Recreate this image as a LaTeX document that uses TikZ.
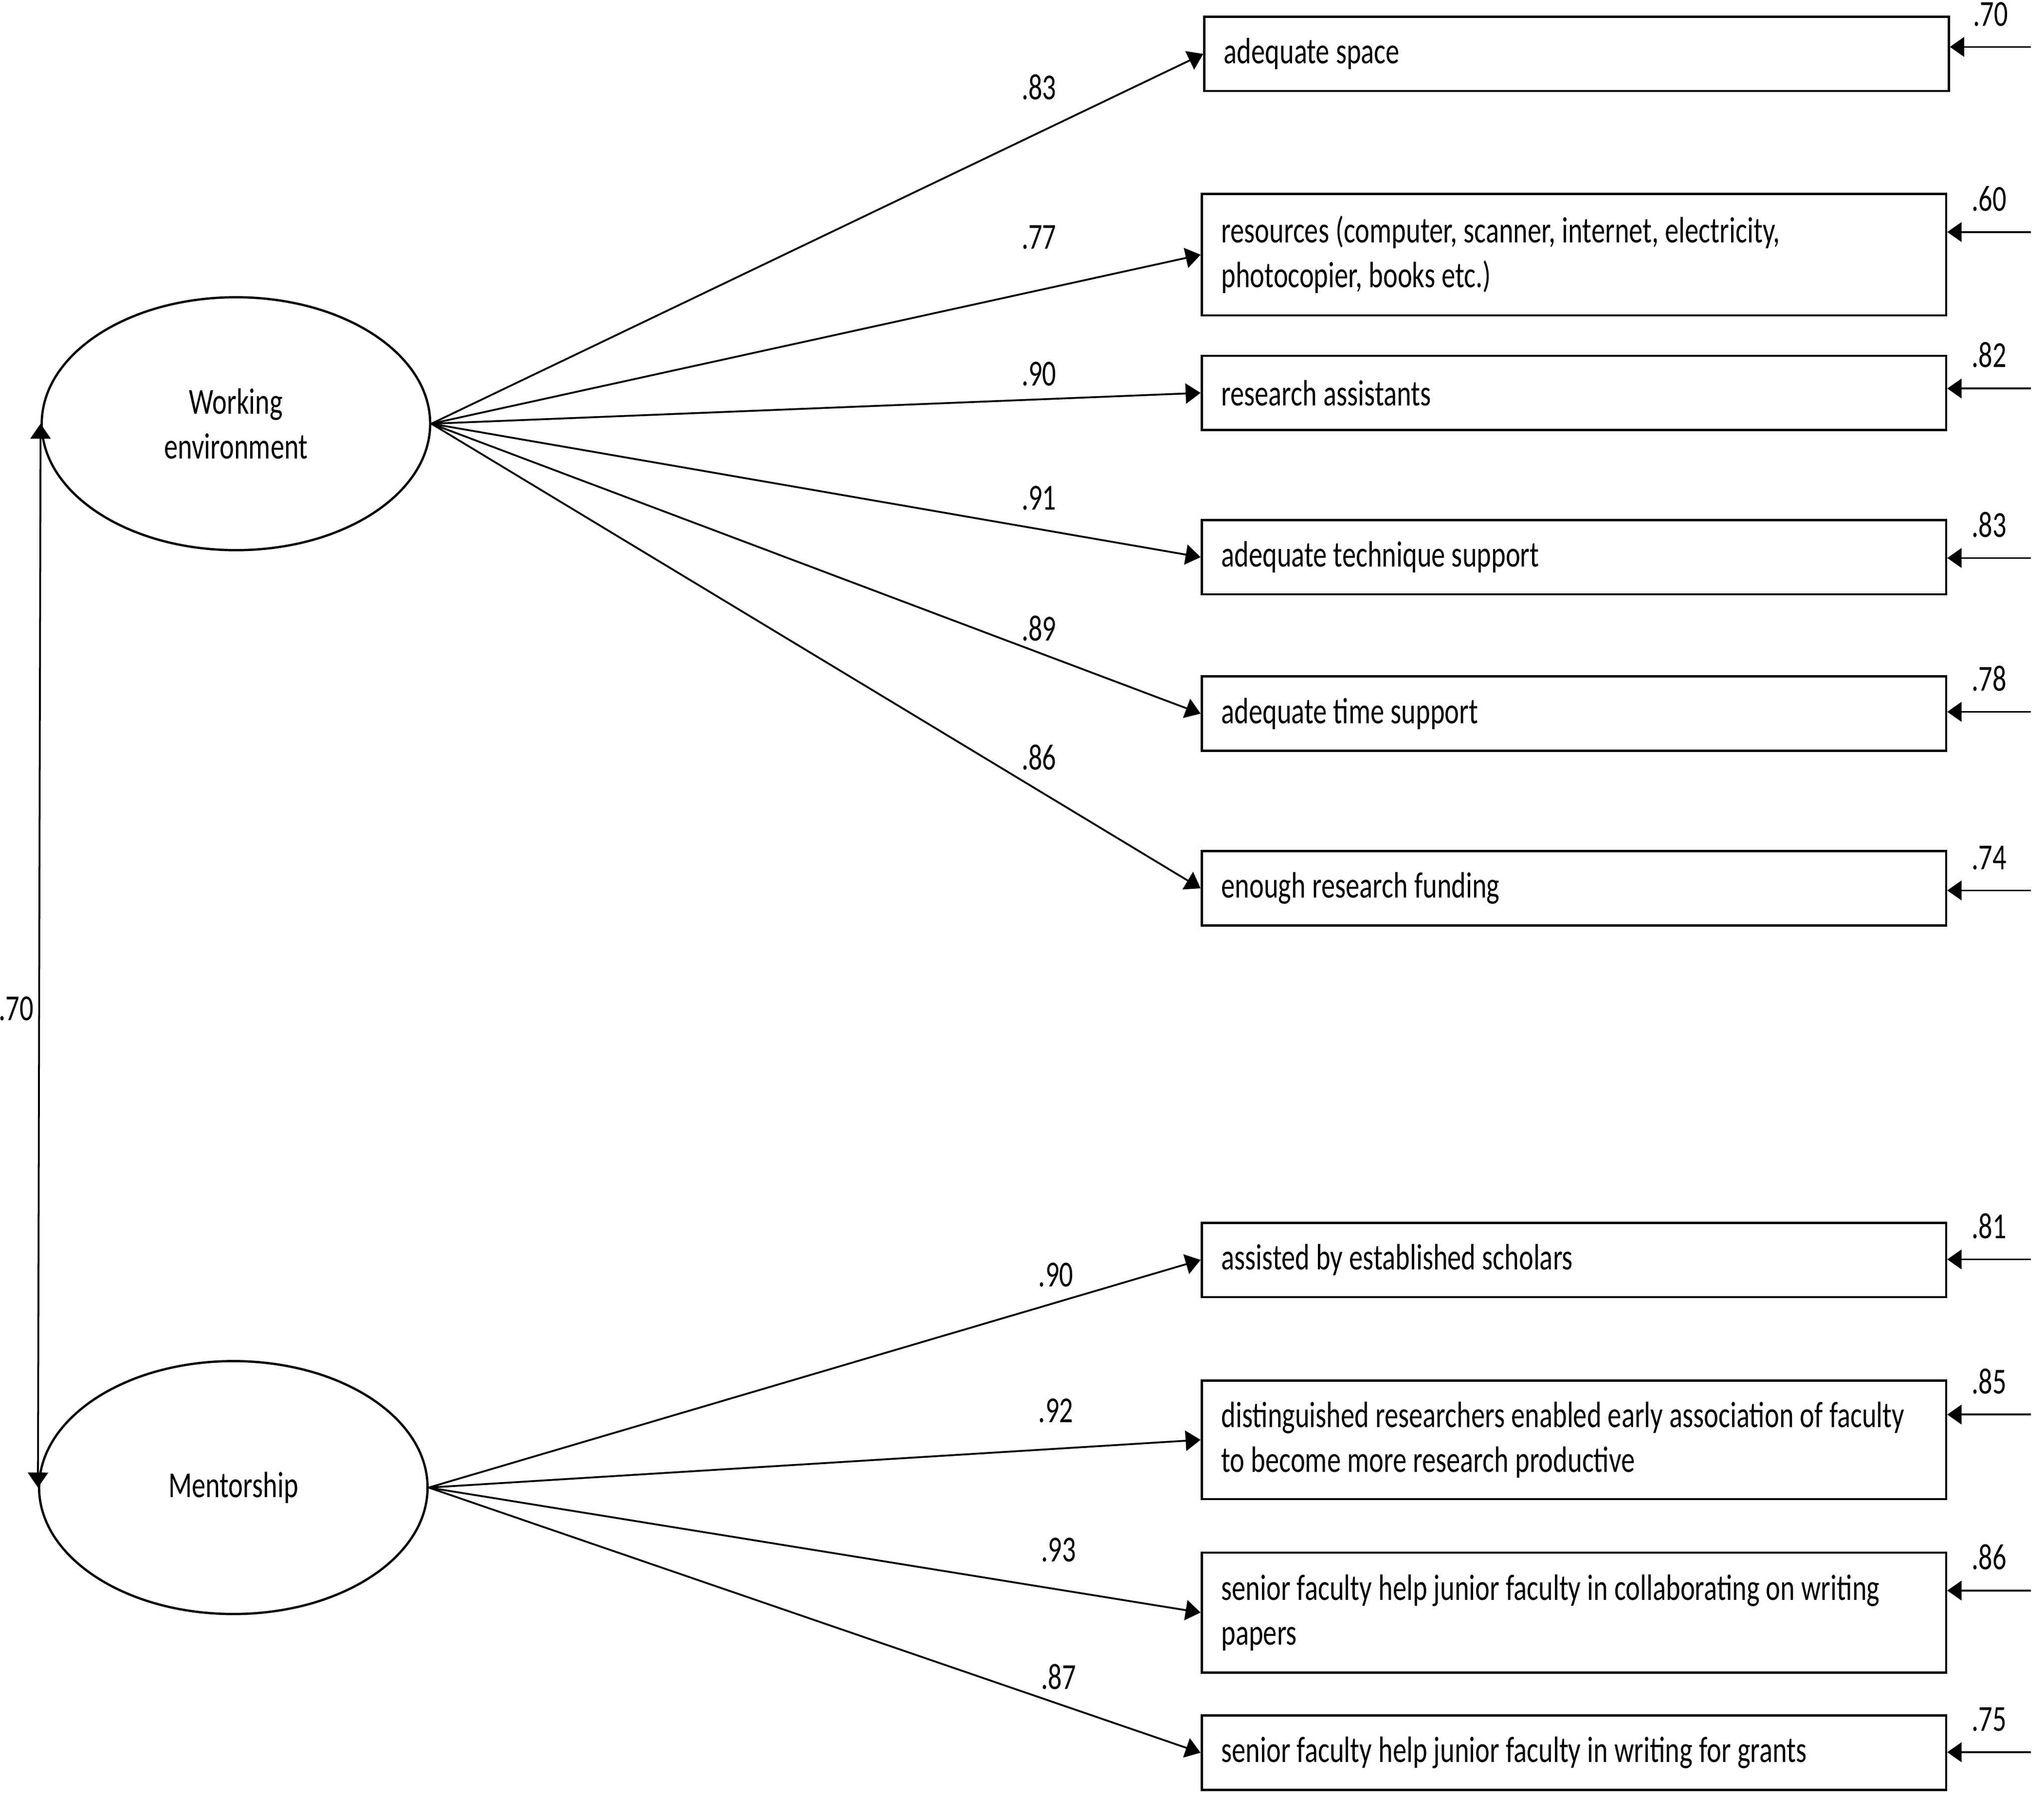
\documentclass[tikz,border=0pt]{standalone}
\usepackage{fontspec}
\setmainfont{Carlito}[FakeStretch=0.75]
\usetikzlibrary{arrows.meta,shapes.geometric}
\newcommand{\diagfont}{\fontsize{8pt}{9.8pt}\selectfont\hyphenpenalty=10000\relax}

\begin{document}
\begin{tikzpicture}[font=\diagfont]

        % Styles
        \tikzstyle{latent}=[draw,ellipse,line width=0.5pt,minimum width=2.98cm,minimum height=1.94cm,inner sep=0pt,align=center]
        \tikzstyle{indicator box}=[draw,line width=0.5pt,anchor=north west,minimum width=5.71cm,minimum height=0.57cm,text width=5.41cm,inner xsep=0.15cm,inner ysep=2pt,align=left,
            execute at begin node={\spaceskip=1.4pt plus 0.5pt\xspaceskip=1.4pt plus 0.5pt\relax}]
        \tikzstyle{path arrow}=[line width=0.4pt,-{Triangle[length=1.15mm,width=1.55mm]}]
        \tikzstyle{error arrow}=[line width=0.4pt,-{Triangle[length=1.1mm,width=1.5mm]}]
        \tikzstyle{load label}=[inner sep=1pt]
        %The graphic
        \useasboundingbox (0,0) rectangle (15.68,-13.78);
        %latent factors
        \node[latent] (WE) at (1.81,-3.25) {Working\\environment};
        \node[latent] (M) at (1.79,-11.41) {Mentorship};
        %indicators
        \node[indicator box] (b1) at (9.23,-0.12) {adequate space};
        \node[indicator box,minimum height=0.93cm] (b2) at (9.21,-1.48) {resources (computer, scanner, internet, electricity,\\photocopier, books etc.)};
        \node[indicator box] (b3) at (9.21,-2.72) {research assistants};
        \node[indicator box] (b4) at (9.21,-3.98) {adequate technique support};
        \node[indicator box] (b5) at (9.21,-5.18) {adequate time support};
        \node[indicator box] (b6) at (9.21,-6.52) {enough research funding};
        \node[indicator box] (b7) at (9.21,-9.37) {assisted by established scholars};
        \node[indicator box,minimum height=0.91cm] (b8) at (9.21,-10.58) {distinguished researchers enabled early association of faculty\\to become more research productive};
        \node[indicator box,minimum height=0.92cm] (b9) at (9.21,-11.90) {senior faculty help junior faculty in collaborating on writing\\papers};
        \node[indicator box] (b10) at (9.21,-13.15) {senior faculty help junior faculty in writing for grants};
        %correlation
        \draw[line width=0.4pt,{Triangle[length=1.15mm,width=1.55mm]}-{Triangle[length=1.15mm,width=1.55mm]}] (WE.west) -- (M.west) node[pos=0.55,left,inner sep=1pt] {.70};
        %loadings
        \foreach \b/\v/\lx/\ly in {b1/.83/7.97/-0.67, b2/.77/7.97/-1.82, b3/.90/7.97/-2.87, b4/.91/7.97/-3.82, b5/.89/7.97/-4.82, b6/.86/7.97/-5.81}
        {
            \draw[path arrow] (WE.east) -- (\b.west);
            \node[load label] at (\lx,\ly) {\v};
        }
        \foreach \b/\v/\lx/\ly in {b7/.90/8.10/-9.78, b8/.92/8.10/-10.82, b9/.93/8.12/-11.89, b10/.87/8.12/-12.86}
        {
            \draw[path arrow] (M.east) -- (\b.west);
            \node[load label] at (\lx,\ly) {\v};
        }
        %errors
        \foreach \b/\y/\v in {b1/-0.36/.70, b2/-1.78/.60, b3/-2.98/.82, b4/-4.28/.83, b5/-5.46/.78, b6/-6.83/.74, b7/-9.66/.81, b8/-10.85/.85, b9/-12.20/.86, b10/-13.44/.75}
        {
            \coordinate (e\b) at (15.58,\y);
            \draw[error arrow] (e\b) -- (\b.east |- e\b) node[midway,above,yshift=1pt] {\v};
        }
\end{tikzpicture}
\end{document}
